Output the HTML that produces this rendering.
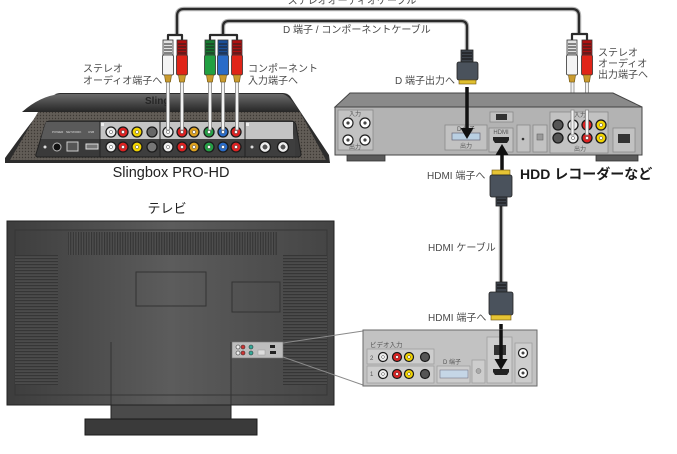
<!DOCTYPE html>
<html><head><meta charset="utf-8">
<style>
html,body{margin:0;padding:0;background:#fff;}
svg{display:block;}
text{font-family:"Liberation Sans","Noto Sans CJK JP",sans-serif;}
.lb{font-size:10px;fill:#4a4a4a;}
.tn{font-size:6px;fill:#555;}
</style></head><body>
<svg width="677" height="454" viewBox="0 0 677 454" xmlns="http://www.w3.org/2000/svg">
<defs>
 <linearGradient id="tvg" x1="0" x2="1" y1="0" y2="0">
  <stop offset="0" stop-color="#3d3d3d"/><stop offset="0.5" stop-color="#5c5c5c"/><stop offset="1" stop-color="#444"/>
 </linearGradient>
 <pattern id="vstripe" width="2.6" height="4" patternUnits="userSpaceOnUse"><rect width="2.6" height="4" fill="#4e4e4e"/><rect width="1.1" height="4" fill="#343434"/></pattern>
 <pattern id="hstripe" width="4" height="3" patternUnits="userSpaceOnUse"><rect width="4" height="3" fill="#4b4b4b"/><rect width="4" height="1.2" fill="#363636"/></pattern>
 <pattern id="dots" width="3" height="3" patternUnits="userSpaceOnUse"><rect width="3" height="3" fill="#625d57"/><circle cx="1.5" cy="1.5" r="0.7" fill="#3d3934"/></pattern>
 <linearGradient id="slt" x1="0" x2="0" y1="0" y2="1"><stop offset="0" stop-color="#6a6a6a"/><stop offset="1" stop-color="#262626"/></linearGradient>
</defs>

<!-- ============ CABLES (top) ============ -->
<text x="352" y="4" text-anchor="middle" class="lb">ステレオオーディオケーブル</text>
<g fill="none" stroke-linejoin="round">
 <path d="M177,35 V16 Q177,9 184,9 H572 Q579,9 579,16 V35" stroke="#b5b5b5" stroke-width="4.5"/>
 <path d="M223,35 V27 Q223,21 229,21 H461 Q467,21 467,27 V50" stroke="#b5b5b5" stroke-width="4.5"/>
 <path d="M177,35 V16 Q177,9 184,9 H572 Q579,9 579,16 V35" stroke="#2b2b2b" stroke-width="2.2"/>
 <path d="M223,35 V27 Q223,21 229,21 H461 Q467,21 467,27 V50" stroke="#2b2b2b" stroke-width="2.2"/>
 <path d="M168,41 V35 H182 V41" stroke="#2b2b2b" stroke-width="2.2"/>
 <path d="M210,41 V35 H237 V41" stroke="#2b2b2b" stroke-width="2.2"/>
 <path d="M572,41 V34 H587 V41" stroke="#2b2b2b" stroke-width="2.2"/>
</g>
<text x="283" y="33" class="lb">D 端子 / コンポーネントケーブル</text>

<!-- ============ SLINGBOX ============ -->
<path d="M5,163 L5,158 C18,140 40,110 53,96 Q56,93 60,93 L283,93 Q287,93 290,96 L329,155 L330,163 Z" fill="#2c2c2c"/>
<path d="M22,112 Q40,96 60,94 L283,94 Q290,96 300,112 Z" fill="url(#slt)"/>
<text x="145" y="104" font-size="10" font-weight="bold" fill="#262626">Sling</text>
<path d="M10,160 L38,112 L300,112 L326,160 Z" fill="url(#dots)"/>
<path d="M50,121 L291,121 Q295,121 296,125 L301,154 Q301,157 298,157 L38,157 Q35,157 36,154 L45,125 Q46,121 50,121 Z" fill="#3a3a3a" stroke="#222" stroke-width="1"/>
<path d="M44,128 L46,122 L291,122 L294,139 L41,139 Z" fill="#5a5a5a"/>
<rect x="100" y="122" width="193" height="17" fill="#c4c4c4"/>
<rect x="100" y="139" width="195" height="17" fill="#3e3e3e"/>
<g stroke="#222" stroke-width="1">
 <line x1="100" y1="121" x2="100" y2="157"/><line x1="160" y1="121" x2="160" y2="157"/><line x1="245" y1="121" x2="245" y2="157"/>
</g>
<g fill="#eee"><rect x="101" y="123" width="3" height="3"/><rect x="246" y="123" width="3" height="3"/></g>
<!-- left ports -->
<circle cx="45" cy="147" r="1.5" fill="#ddd"/>
<circle cx="57" cy="147" r="4" fill="#111" stroke="#bbb" stroke-width="1"/>
<rect x="67" y="142" width="11" height="9" fill="#555" stroke="#ccc" stroke-width="1"/>
<rect x="86" y="144" width="12" height="5" fill="#777" stroke="#ddd" stroke-width="1"/>
<g font-size="3" fill="#ddd"><text x="52" y="133">POWER</text><text x="66" y="133">NETWORK</text><text x="88" y="133">USB</text></g>
<!-- jacks slingbox -->
<g stroke="#1a1a1a" stroke-width="1.3">
 <g id="slrow">
 <circle cx="111" cy="132" r="5" fill="#eee"/><circle cx="123" cy="132" r="5" fill="#d22"/><circle cx="137" cy="132" r="5" fill="#f2d400"/><circle cx="152" cy="132" r="5" fill="#666"/>
 <circle cx="168" cy="132" r="5" fill="#eee"/><circle cx="182" cy="132" r="5" fill="#d22"/><circle cx="194" cy="132" r="5" fill="#dca020"/>
 <circle cx="209" cy="132" r="5" fill="#25a045"/><circle cx="223" cy="132" r="5" fill="#2a6cc8"/><circle cx="236" cy="132" r="5" fill="#d22"/>
 </g>
 <circle cx="111" cy="147" r="5" fill="#eee"/><circle cx="123" cy="147" r="5" fill="#d22"/><circle cx="137" cy="147" r="5" fill="#f2d400"/><circle cx="152" cy="147" r="5" fill="#777"/>
 <circle cx="168" cy="147" r="5" fill="#eee"/><circle cx="182" cy="147" r="5" fill="#d22"/><circle cx="194" cy="147" r="5" fill="#dca020"/>
 <circle cx="209" cy="147" r="5" fill="#25a045"/><circle cx="223" cy="147" r="5" fill="#2a6cc8"/><circle cx="236" cy="147" r="5" fill="#d22"/>
 <circle cx="265" cy="147" r="5.5" fill="#eee"/><circle cx="283" cy="147" r="5.5" fill="#eee"/>
</g>
<g fill="#fff" stroke="#444" stroke-width=".5">
 <circle cx="111" cy="132" r="1.6"/><circle cx="123" cy="132" r="1.6"/><circle cx="137" cy="132" r="1.6"/><circle cx="168" cy="132" r="1.6"/><circle cx="182" cy="132" r="1.6"/><circle cx="194" cy="132" r="1.6"/><circle cx="209" cy="132" r="1.6"/><circle cx="223" cy="132" r="1.6"/><circle cx="236" cy="132" r="1.6"/>
 <circle cx="111" cy="147" r="1.6"/><circle cx="123" cy="147" r="1.6"/><circle cx="137" cy="147" r="1.6"/><circle cx="168" cy="147" r="1.6"/><circle cx="182" cy="147" r="1.6"/><circle cx="194" cy="147" r="1.6"/><circle cx="209" cy="147" r="1.6"/><circle cx="223" cy="147" r="1.6"/><circle cx="236" cy="147" r="1.6"/>
 <circle cx="265" cy="147" r="2.2" fill="#555"/><circle cx="283" cy="147" r="2.2" fill="#555"/>
</g>
<circle cx="252" cy="147" r="1.5" fill="#ddd"/>
<text x="171" y="177" text-anchor="middle" font-size="14.5" fill="#222">Slingbox PRO-HD</text>

<!-- slingbox plugs: pins -->
<g fill="#f2f2f2" stroke="#888" stroke-width=".8">
 <rect x="166.5" y="82" width="3" height="48"/><rect x="180.5" y="82" width="3" height="48"/>
 <rect x="208.5" y="82" width="3" height="48"/><rect x="221.5" y="82" width="3" height="48"/><rect x="235.5" y="82" width="3" height="48"/>
 <rect x="571" y="82" width="3" height="54"/><rect x="585.5" y="82" width="3" height="54"/>
</g>
<!-- RCA plugs -->
<g stroke="#333" stroke-width=".8">
 <!-- white 168 -->
 <rect x="163" y="40" width="10" height="15" fill="#e2e2e2"/><rect x="162.5" y="55" width="11" height="20" rx="1.5" fill="#f4f4f4"/>
 <!-- red 182 -->
 <rect x="177" y="40" width="10" height="15" fill="#b01010"/><rect x="176.5" y="55" width="11" height="20" rx="1.5" fill="#e02418"/>
 <!-- green 210 -->
 <rect x="205" y="40" width="10" height="15" fill="#167a30"/><rect x="204.5" y="55" width="11" height="20" rx="1.5" fill="#22a042"/>
 <!-- blue 223 -->
 <rect x="218" y="40" width="10" height="15" fill="#1a4f98"/><rect x="217.5" y="55" width="11" height="20" rx="1.5" fill="#2a6cc8"/>
 <!-- red 237 -->
 <rect x="232" y="40" width="10" height="15" fill="#b01010"/><rect x="231.5" y="55" width="11" height="20" rx="1.5" fill="#e02418"/>
 <!-- right white 572 -->
 <rect x="567" y="40" width="10" height="15" fill="#e2e2e2"/><rect x="566.5" y="55" width="11" height="20" rx="1.5" fill="#f4f4f4"/>
 <!-- right red 587 -->
 <rect x="582" y="40" width="10" height="15" fill="#b01010"/><rect x="581.5" y="55" width="11" height="20" rx="1.5" fill="#e02418"/>
</g>
<g stroke="#222" stroke-width="1">
 <path d="M164,44 h8 M164,47 h8 M164,50 h8 M164,53 h8"/>
 <path d="M178,44 h8 M178,47 h8 M178,50 h8 M178,53 h8"/>
 <path d="M206,44 h8 M206,47 h8 M206,50 h8 M206,53 h8"/>
 <path d="M219,44 h8 M219,47 h8 M219,50 h8 M219,53 h8"/>
 <path d="M233,44 h8 M233,47 h8 M233,50 h8 M233,53 h8"/>
 <path d="M568,44 h8 M568,47 h8 M568,50 h8 M568,53 h8"/>
 <path d="M583,44 h8 M583,47 h8 M583,50 h8 M583,53 h8"/>
</g>
<g fill="#c99a2e" stroke="#6a5010" stroke-width=".6">
 <path d="M164.5,75 h7 l-1,7 h-5 z"/><path d="M178.5,75 h7 l-1,7 h-5 z"/>
 <path d="M206.5,75 h7 l-1,7 h-5 z"/><path d="M219.5,75 h7 l-1,7 h-5 z"/><path d="M233.5,75 h7 l-1,7 h-5 z"/>
 <path d="M568.5,75 h7 l-1,7 h-5 z"/><path d="M583.5,75 h7 l-1,7 h-5 z"/>
</g>

<text x="83" y="72" class="lb" font-size="9.5">ステレオ</text>
<text x="83" y="84" class="lb" font-size="9.5">オーディオ端子へ</text>
<text x="248" y="72" class="lb" font-size="9.5">コンポーネント</text>
<text x="248" y="84" class="lb" font-size="9.5">入力端子へ</text>

<!-- ============ HDD RECORDER ============ -->
<path d="M350,93 L613,93 L642,107 L335,107 Z" fill="#8a8a8a" stroke="#444" stroke-width="1"/>
<rect x="335" y="107" width="307" height="48" fill="#b3b3b3" stroke="#444" stroke-width="1"/>
<rect x="347" y="155" width="38" height="6" fill="#5a5a5a" stroke="#333" stroke-width=".8"/>
<rect x="596" y="155" width="42" height="6" fill="#5a5a5a" stroke="#333" stroke-width=".8"/>
<g fill="#c2c2c2" stroke="#8a8a8a" stroke-width=".8">
 <rect x="338" y="110" width="35" height="40"/>
 <rect x="445" y="125" width="42" height="25"/>
 <rect x="489" y="128" width="24" height="24"/>
 <rect x="490" y="112" width="23" height="10"/>
 <rect x="517" y="125" width="13" height="27"/>
 <rect x="533" y="125" width="14" height="27"/>
 <rect x="550" y="112" width="58" height="41"/>
 <rect x="613" y="128" width="22" height="24"/>
</g>
<rect x="496" y="114" width="11" height="6" fill="#333"/>
<rect x="618" y="134" width="12" height="9" fill="#333"/>
<circle cx="523" cy="139" r="1.3" fill="#333"/>
<rect x="537" y="134" width="6" height="6" fill="#999" stroke="#666" stroke-width=".6"/>
<rect x="452" y="133" width="28" height="7" fill="#b9cfe2" stroke="#667" stroke-width=".7"/>
<path d="M493,137 h16 v3 l-2,3 h-12 l-2,-3 z" fill="#222"/>
<text x="355" y="116" text-anchor="middle" class="tn">入力</text>
<text x="355" y="149" text-anchor="middle" class="tn">出力</text>
<text x="466" y="131" text-anchor="middle" class="tn">D 端子</text>
<text x="466" y="148" text-anchor="middle" class="tn">出力</text>
<text x="501" y="134" text-anchor="middle" class="tn">HDMI</text>
<text x="580" y="117" text-anchor="middle" class="tn">入力</text>
<text x="580" y="151" text-anchor="middle" class="tn">出力</text>
<g stroke="#222" stroke-width="1.2" fill="#fff">
 <circle cx="348" cy="123" r="5"/><circle cx="365" cy="123" r="5"/><circle cx="348" cy="140" r="5"/><circle cx="365" cy="140" r="5"/>
</g>
<g fill="#444"><circle cx="348" cy="123" r="1.6"/><circle cx="365" cy="123" r="1.6"/><circle cx="348" cy="140" r="1.6"/><circle cx="365" cy="140" r="1.6"/></g>
<g stroke="#1a1a1a" stroke-width="1.3">
 <circle cx="558" cy="125" r="5" fill="#555"/><circle cx="573" cy="125" r="5" fill="#eee"/><circle cx="587" cy="125" r="5" fill="#d22"/><circle cx="601" cy="125" r="5" fill="#f2d400"/>
 <circle cx="558" cy="138" r="5" fill="#555"/><circle cx="573" cy="138" r="5" fill="#eee"/><circle cx="587" cy="138" r="5" fill="#d22"/><circle cx="601" cy="138" r="5" fill="#f2d400"/>
</g>
<g fill="#fff" stroke="#444" stroke-width=".5">
 <circle cx="601" cy="125" r="1.6"/><circle cx="601" cy="138" r="1.6"/><circle cx="573" cy="138" r="1.6"/><circle cx="587" cy="138" r="1.6"/>
</g>
<!-- right pins over top row -->
<g fill="#f2f2f2" stroke="#888" stroke-width=".8">
 <rect x="571" y="110" width="3" height="25"/><rect x="585.5" y="110" width="3" height="25"/>
</g>

<!-- D plug -->
<rect x="461" y="50" width="12" height="12" fill="#3e444c" stroke="#222" stroke-width=".8"/>
<path d="M462,53 h10 M462,56 h10 M462,59 h10" stroke="#111" stroke-width="1"/>
<rect x="457" y="62" width="21" height="18" rx="2" fill="#4a525c" stroke="#222" stroke-width=".8"/>
<rect x="459" y="80" width="17" height="4" fill="#e0c030" stroke="#6a5010" stroke-width=".6"/>
<line x1="467" y1="87" x2="467" y2="130" stroke="#111" stroke-width="3.5"/>
<path d="M460.5,128 L473.5,128 L467,139 Z" fill="#111"/>
<text x="395" y="84" class="lb">D 端子出力へ</text>
<text x="598" y="56" class="lb">ステレオ</text>
<text x="598" y="67" class="lb">オーディオ</text>
<text x="598" y="78" class="lb">出力端子へ</text>

<!-- HDMI up arrow -->
<line x1="502" y1="170" x2="502" y2="153" stroke="#111" stroke-width="3.5"/>
<path d="M495.5,155 L508.5,155 L502,144 Z" fill="#111"/>

<!-- HDMI cable -->
<line x1="501" y1="205" x2="501" y2="283" stroke="#b5b5b5" stroke-width="4.5"/>
<line x1="501" y1="205" x2="501" y2="283" stroke="#2b2b2b" stroke-width="2.2"/>
<rect x="492" y="170" width="18" height="5" fill="#e6c434" stroke="#6a5010" stroke-width=".6"/>
<rect x="490" y="175" width="22" height="22" rx="2" fill="#4a525c" stroke="#222" stroke-width=".8"/>
<rect x="496" y="197" width="11" height="9" fill="#3e444c" stroke="#222" stroke-width=".8"/>
<path d="M497,200 h9 M497,203 h9" stroke="#111" stroke-width="1"/>
<rect x="496" y="282" width="11" height="10" fill="#3e444c" stroke="#222" stroke-width=".8"/>
<path d="M497,285 h9 M497,288 h9" stroke="#111" stroke-width="1"/>
<rect x="489" y="292" width="24" height="23" rx="2" fill="#4a525c" stroke="#222" stroke-width=".8"/>
<rect x="491" y="315" width="20" height="5" fill="#e6c434" stroke="#6a5010" stroke-width=".6"/>
<line x1="501" y1="324" x2="501" y2="361" stroke="#111" stroke-width="3.5"/>
<path d="M494.5,359 L507.5,359 L501,370 Z" fill="#111"/>

<text x="427" y="179" class="lb">HDMI 端子へ</text>
<text x="520" y="179" font-size="14" font-weight="bold" fill="#1a1a1a">HDD レコーダーなど</text>
<text x="428" y="251" class="lb">HDMI ケーブル</text>
<text x="428" y="321" class="lb">HDMI 端子へ</text>

<!-- ============ TV ============ -->
<text x="167" y="213" text-anchor="middle" font-size="13" fill="#222">テレビ</text>
<rect x="7" y="221" width="327" height="184" fill="url(#tvg)" stroke="#222" stroke-width="1"/>
<rect x="15" y="230" width="312" height="165" fill="none" stroke="#363636" stroke-width="1"/>
<rect x="68" y="232" width="209" height="23" fill="url(#vstripe)"/>
<rect x="15" y="255" width="43" height="130" fill="url(#hstripe)"/>
<rect x="283" y="255" width="44" height="130" fill="url(#hstripe)"/>
<rect x="136" y="272" width="70" height="34" fill="none" stroke="#333" stroke-width="1"/>
<rect x="232" y="282" width="48" height="30" fill="none" stroke="#333" stroke-width="1"/>
<line x1="111" y1="342" x2="111" y2="405" stroke="#333" stroke-width="1"/>
<line x1="231" y1="342" x2="231" y2="405" stroke="#333" stroke-width="1"/>
<rect x="111" y="405" width="120" height="15" fill="#4a4a4a" stroke="#222" stroke-width="1"/>
<rect x="85" y="419" width="172" height="16" fill="#3a3a3a" stroke="#1a1a1a" stroke-width="1"/>
<rect x="232" y="342" width="51" height="16" fill="#bdbdbd" stroke="#777" stroke-width=".6"/>
<g stroke="#333" stroke-width=".6">
 <circle cx="238" cy="347" r="2" fill="#eee"/><circle cx="243" cy="347" r="2" fill="#c33"/><circle cx="251" cy="347" r="2" fill="#3a9"/>
 <circle cx="238" cy="353" r="2" fill="#eee"/><circle cx="243" cy="353" r="2" fill="#c33"/><circle cx="251" cy="353" r="2" fill="#3a9"/>
</g>
<rect x="270" y="345" width="5" height="3" fill="#222"/><rect x="270" y="351" width="6" height="3" fill="#222"/>
<rect x="258" y="350" width="7" height="5" fill="#ddd" stroke="#999" stroke-width=".5"/>

<!-- callout lines -->
<line x1="283" y1="343" x2="363" y2="331" stroke="#8a8a8a" stroke-width="1"/>
<line x1="283" y1="357" x2="363" y2="385" stroke="#8a8a8a" stroke-width="1"/>

<!-- callout box -->
<rect x="363" y="330" width="174" height="56" fill="#c2c2c2" stroke="#6a6a6a" stroke-width="1"/>
<text x="370" y="347" font-size="6.5" fill="#555">ビデオ入力</text>
<g fill="#cdcdcd" stroke="#999" stroke-width=".7">
 <rect x="367" y="349" width="67" height="15"/>
 <rect x="367" y="366" width="67" height="17"/>
 <rect x="437" y="366" width="33" height="17"/>
 <rect x="472" y="360" width="13" height="23"/>
 <rect x="487" y="337" width="25" height="46"/>
 <rect x="515" y="343" width="17" height="40"/>
</g>
<text x="370" y="360" font-size="6" fill="#555">2</text>
<text x="370" y="376" font-size="6" fill="#555">1</text>
<text x="443" y="364" font-size="6" fill="#555">D 端子</text>
<rect x="440" y="370" width="28" height="8" fill="#c5d6e6" stroke="#778" stroke-width=".6"/>
<circle cx="478.5" cy="371" r="2.5" fill="#aaa" stroke="#777" stroke-width=".5"/>
<rect x="494" y="345" width="12" height="10" fill="#333"/>
<path d="M493,369 h16 v3 l-2,3 h-12 l-2,-3 z" fill="#222"/>
<g stroke="#1a1a1a" stroke-width="1.2">
 <circle cx="383" cy="357" r="4.5" fill="#eee"/><circle cx="397" cy="357" r="4.5" fill="#d22"/><circle cx="409" cy="357" r="4.5" fill="#f2d400"/><circle cx="425" cy="357" r="4.5" fill="#555"/>
 <circle cx="383" cy="374" r="4.5" fill="#eee"/><circle cx="397" cy="374" r="4.5" fill="#d22"/><circle cx="409" cy="374" r="4.5" fill="#f2d400"/><circle cx="425" cy="374" r="4.5" fill="#555"/>
</g>
<g fill="#fff" stroke="#444" stroke-width=".5">
 <circle cx="383" cy="357" r="1.4"/><circle cx="397" cy="357" r="1.4"/><circle cx="409" cy="357" r="1.4"/>
 <circle cx="383" cy="374" r="1.4"/><circle cx="397" cy="374" r="1.4"/><circle cx="409" cy="374" r="1.4"/>
</g>
<g stroke="#222" stroke-width="1.2" fill="#fff">
 <circle cx="523" cy="353" r="4.5"/><circle cx="523" cy="373" r="4.5"/>
</g>
<g fill="#444"><circle cx="523" cy="353" r="1.5"/><circle cx="523" cy="373" r="1.5"/></g>
<!-- redraw tv arrow over box -->
<line x1="501" y1="330" x2="501" y2="361" stroke="#111" stroke-width="3.5"/>
<path d="M494.5,359 L507.5,359 L501,370 Z" fill="#111"/>
</svg>
</body></html>
